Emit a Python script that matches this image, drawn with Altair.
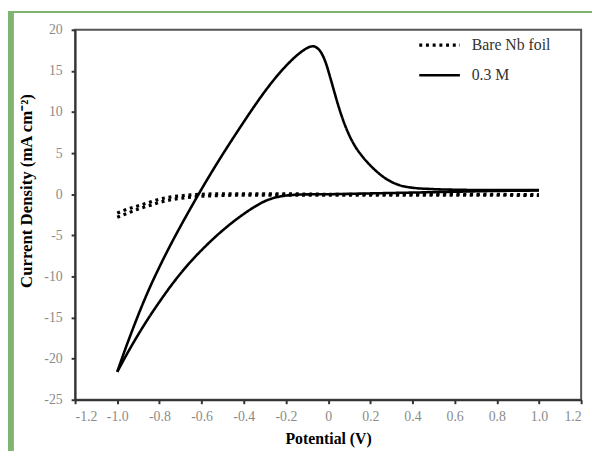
import altair as alt
import pandas as pd

# 0.3 M cyclic voltammogram, anodic (forward) branch
cv_fwd_v = [-1.0, -0.96, -0.93, -0.88, -0.85, -0.8, -0.75, -0.7, -0.65, -0.6, -0.55, -0.5, -0.45, -0.4, -0.35,
            -0.3, -0.25, -0.2, -0.15, -0.12, -0.09, -0.07, -0.05, -0.03, -0.01, 0.01, 0.03, 0.05, 0.075, 0.1,
            0.13, 0.16, 0.2, 0.24, 0.28, 0.32, 0.36, 0.4, 0.5, 0.6, 0.8, 1.0]
cv_fwd_i = [-21.6, -18.7, -16.65, -13.4, -11.6, -8.85, -6.3, -3.9, -1.6, 0.63, 2.78, 4.85, 6.85, 8.8, 10.7,
            12.5, 14.15, 15.6, 16.85, 17.45, 17.9, 18.0, 17.75, 17.1, 15.9, 14.2, 12.4, 10.64, 8.74, 7.19,
            5.75, 4.67, 3.51, 2.55, 1.79, 1.27, 0.95, 0.79, 0.62, 0.55, 0.5, 0.5]
# 0.3 M, cathodic (reverse) branch
cv_rev_v = [1.0, 0.8, 0.6, 0.4, 0.2, 0.0, -0.1, -0.15, -0.21, -0.25, -0.3, -0.35, -0.4, -0.45, -0.5, -0.55,
            -0.6, -0.65, -0.7, -0.75, -0.8, -0.85, -0.9, -0.95, -1.0]
cv_rev_i = [0.45, 0.4, 0.3, 0.2, 0.1, 0.0, -0.02, -0.06, -0.2, -0.4, -0.85, -1.55, -2.4, -3.35, -4.4, -5.55,
            -6.8, -8.15, -9.65, -11.3, -13.1, -15.0, -17.05, -19.25, -21.6]
# Bare Nb foil
foil_v = [-1.0, -0.95, -0.9, -0.85, -0.8, -0.75, -0.7, -0.65, -0.6, -0.5, -0.4, -0.2, 0.0, 0.5, 1.0]
foil_fwd_i = [-2.3, -1.8, -1.4, -1.0, -0.6, -0.35, -0.2, -0.08, 0.0, 0.05, 0.05, 0.05, 0.0, 0.0, -0.05]
foil_rev_i = [-2.8, -2.3, -1.8, -1.4, -1.0, -0.7, -0.5, -0.35, -0.25, -0.15, -0.1, -0.1, -0.1, -0.1, -0.15]

series_names = ["Bare Nb foil", "0.3 M"]
x_ticks = [-1.2, -1.0, -0.8, -0.6, -0.4, -0.2, 0.0, 0.2, 0.4, 0.6, 0.8, 1.0, 1.2]
y_ticks = [-25, -20, -15, -10, -5, 0, 5, 10, 15, 20]

rows = []
def add(name, branch, vs, is_):
    for v, c in zip(vs, is_):
        rows.append({"series": name, "branch": branch, "V": v, "I": c})

add("Bare Nb foil", "foil_fwd", foil_v, foil_fwd_i)
add("Bare Nb foil", "foil_rev", foil_v, foil_rev_i)
add("0.3 M", "cv_fwd", cv_fwd_v, cv_fwd_i)
add("0.3 M", "cv_rev", cv_rev_v, cv_rev_i)
df = pd.DataFrame(rows)

W, H = 513, 375
FONT = "Liberation Serif"
GREEN = "#80b571"

lines = alt.Chart(df).mark_line(interpolate="monotone", color="black", strokeCap="butt").encode(
    x=alt.X("V:Q", scale=alt.Scale(domain=[-1.2, 1.2], nice=False, zero=False),
            axis=alt.Axis(values=x_ticks, title="Potential (V)",
                          labelExpr="abs(datum.value) < 0.01 ? '0' : (datum.value < 0 ? '-' : '') + format(abs(datum.value), '.1f')",
                          titleX=W / 2, titleY=31, titleFontSize=16)),
    y=alt.Y("I:Q", scale=alt.Scale(domain=[-25, 20], nice=False, zero=False),
            axis=alt.Axis(values=y_ticks, title="Current Density (mA cm⁻²)",
                          labelExpr="(datum.value < 0 ? '-' : '') + format(abs(datum.value), 'd')",
                          titleX=-40, titleY=163)),
    detail="branch:N",
    order="V:Q",
    strokeWidth=alt.StrokeWidth("series:N", scale=alt.Scale(domain=series_names, range=[3.2, 2.6]), legend=None),
    strokeDash=alt.StrokeDash("series:N",
                              scale=alt.Scale(domain=series_names, range=[[3, 3.8], [1, 0]]),
                              legend=alt.Legend(title=None, orient="none", legendX=347, legendY=-7,
                                                symbolType="stroke", symbolSize=1700, symbolStrokeWidth=3,
                                                symbolStrokeColor="black",
                                                labelFont=FONT, labelFontSize=16, labelColor="#333",
                                                labelOffset=10, rowPadding=-21, padding=0)),
)

one = pd.DataFrame({"k": [0]})
green_left = alt.Chart(one).mark_rect(color=GREEN).encode(
    x=alt.value(-68), x2=alt.value(-62), y=alt.value(-19), y2=alt.value(H + 60))
green_top = alt.Chart(one).mark_rect(color=GREEN).encode(
    x=alt.value(-68), x2=alt.value(W + 11), y=alt.value(-19), y2=alt.value(-17))

chart = alt.layer(green_left, green_top, lines).properties(
    width=W, height=H,
    padding={"left": 68, "top": 19, "right": 11, "bottom": 60},
    autosize=alt.AutoSizeParams(type="none"),
    background="white",
).configure_view(
    stroke="#555", strokeWidth=2
).configure_axis(
    grid=False,
    domainColor="#333", domainWidth=2,
    tickColor="#333", tickWidth=2, tickSize=4,
    labelFont=FONT, labelFontSize=14, labelColor="#8a8a8a",
    titleFont=FONT, titleFontSize=17, titleFontWeight="bold", titleColor="black",
    zindex=1,
).configure_axisX(labelPadding=6).configure_axisY(labelPadding=9)

chart.save("out.html", embed_options={"renderer": "svg", "actions": False})
